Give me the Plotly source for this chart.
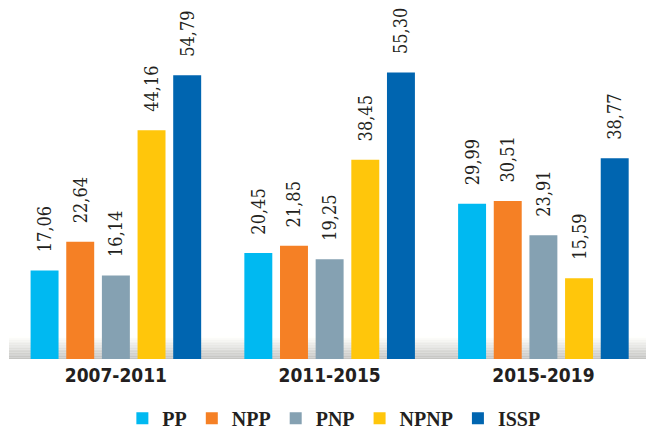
import plotly.graph_objects as go

periods = ["2007-2011", "2011-2015", "2015-2019"]
series_names = ["PP", "NPP", "PNP", "NPNP", "ISSP"]
pp = [17.06, 20.45, 29.99]
npp = [22.64, 21.85, 30.51]
pnp = [16.14, 19.25, 23.91]
npnp = [44.16, 38.45, 15.59]
issp = [54.79, 55.30, 38.77]
colors = ["#00B9F1", "#F58025", "#85A1B2", "#FFC60B", "#0065B0"]

values = [pp, npp, pnp, npnp, issp]

fig = go.Figure()
for name, vals, col in zip(series_names, values, colors):
    fig.add_trace(go.Bar(
        x=periods, y=vals, name=name, marker=dict(color=col, line=dict(width=0)),
        texttemplate="\u00a0\u00a0\u00a0%{y:.2f}", textposition="outside", textangle=-90,
        textfont=dict(family="DejaVu Serif Condensed", size=18, color="#231F20"),
        cliponaxis=False, constraintext="none",
    ))

# gradient band behind bars
n = 14
top = 4.3
for i in range(n):
    t = i / (n - 1)
    g = int(255 - (255 - 196) * t)
    fig.add_shape(type="rect", xref="paper", yref="y", x0=0, x1=1.02,
                  y0=top - top * (i + 1) / n, y1=top - top * i / n,
                  fillcolor=f"rgb({g},{g},{g - 3})", line=dict(width=0), layer="below")

fig.update_layout(
    width=646, height=431,
    margin=dict(l=9, r=0, t=0, b=72, autoexpand=False),
    barmode="group", bargap=0.166, bargroupgap=0.216,
    separators=", ",
    paper_bgcolor="white", plot_bgcolor="rgba(0,0,0,0)",
    xaxis=dict(range=[-0.5, 2.48], showline=False, showgrid=False, ticks="",
               automargin=False, ticklabelstandoff=3,
               tickfont=dict(family="DejaVu Sans Condensed", size=19, color="#231F20", weight="bold")),
    yaxis=dict(range=[0, 69.3], visible=False, showgrid=False, automargin=False),
    showlegend=True,
    legend=dict(orientation="h", x=0.51, xanchor="center", y=-0.165, yanchor="middle",
                font=dict(family="Liberation Serif", size=20, color="#231F20", weight="bold"),
                traceorder="normal", itemwidth=30),
)

fig.write_html("out.html", config={"displayModeBar": False},
               post_script="document.body.style.margin='0';")
